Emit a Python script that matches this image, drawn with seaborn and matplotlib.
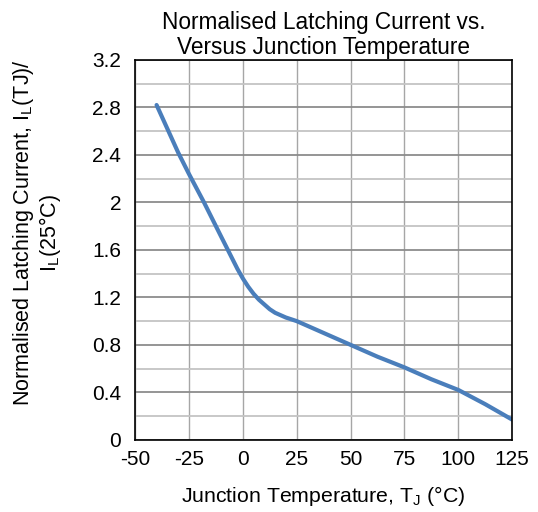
import numpy as np
import pandas as pd
import matplotlib
matplotlib.use("Agg")
import matplotlib.pyplot as plt
import seaborn as sns
from matplotlib.ticker import MultipleLocator

# values
temp_c = [-40, -30, -25, -18, -10, -5, -2.5, 0, 2.5, 5, 7.5, 10, 12.5, 15, 20, 25,
          37.5, 50, 62.5, 75, 87.5, 100, 112.5, 125]
latch_norm = [2.82, 2.42, 2.24, 2.0, 1.71, 1.53, 1.44, 1.36, 1.29, 1.23, 1.18, 1.14, 1.10, 1.07, 1.03, 1.0,
              0.90, 0.80, 0.70, 0.61, 0.51, 0.42, 0.30, 0.17]
x_ticks = [-50, -25, 0, 25, 50, 75, 100, 125]
y_ticks = [0, 0.4, 0.8, 1.2, 1.6, 2, 2.4, 2.8, 3.2]

df = pd.DataFrame({"temp": temp_c, "il": latch_norm})

sns.set_theme(style="white")
plt.rcParams['font.family'] = ['Liberation Sans', 'DejaVu Sans']
plt.rcParams['mathtext.fontset'] = 'custom'
plt.rcParams['mathtext.rm'] = 'Liberation Sans'
plt.rcParams['text.color'] = 'black'
plt.rcParams['axes.labelcolor'] = 'black'

fig = plt.figure(figsize=(5.38, 5.12), dpi=100)
ax = fig.add_axes([0.251, 0.141, 0.701, 0.742])

ax.set_xlim(-50, 125)
ax.set_ylim(0, 3.2)
ax.set_xticks(x_ticks)
ax.set_yticks(y_ticks)
ax.set_xticklabels([str(t) for t in x_ticks])
ax.set_yticklabels(["0", "0.4", "0.8", "1.2", "1.6", "2", "2.4", "2.8", "3.2"])
ax.yaxis.set_minor_locator(MultipleLocator(0.2))

# grid: darker at the major y ticks, lighter in between
ax.grid(True, which="major", axis="y", color="#8c8c8c", linewidth=1.3)
ax.grid(True, which="minor", axis="y", color="#c4c4c4", linewidth=1.3)
ax.grid(True, which="major", axis="x", color="#a6a6a6", linewidth=1.0)
ax.set_axisbelow(True)

sns.lineplot(data=df, x="temp", y="il", ax=ax, color="#4a7ebb", linewidth=3.0)

for s in ax.spines.values():
    s.set_color("black")
    s.set_linewidth(1.2)

ax.tick_params(axis="x", which="both", length=0, labelsize=15, colors="black", pad=7)
ax.tick_params(axis="y", which="both", length=0, labelsize=15, colors="black", pad=10)

ax.set_title("Normalised Latching Current vs.\nVersus Junction Temperature",
             fontsize=16.3, pad=4, linespacing=1.15, color="black")
ax.set_xlabel(r"Junction Temperature, T$_\mathregular{J}$ (°C)", fontsize=15.3, labelpad=11)
ax.set_ylabel("Normalised Latching Current, I$_\\mathregular{L}$(TJ)/\nI$_\\mathregular{L}$(25°C)",
              fontsize=15.5, linespacing=1.05)
ax.yaxis.set_label_coords(-0.19, 0.545)

fig.savefig("out.png", dpi=100)
